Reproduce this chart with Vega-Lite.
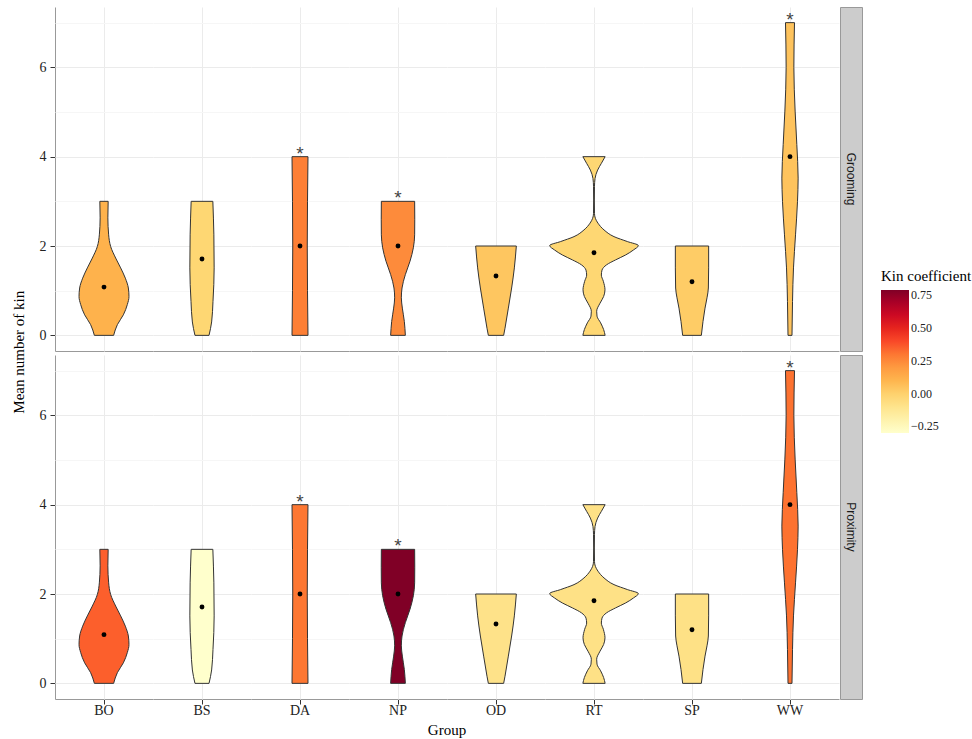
{
  "$schema": "https://vega.github.io/schema/vega-lite/v6.json",
  "padding": {"left": 11, "top": 6, "right": 0, "bottom": 0},
  "background": "white",
  "title": {"text": "Mean number of kin", "orient": "left", "anchor": "middle", "font": "Liberation Serif", "fontSize": 15, "fontWeight": "normal", "color": "#000000", "offset": 12, "dx": 20},
  "datasets": {
    "shapes": [
      {"g": "BO", "v": 0, "d": 0.199}, {"g": "BO", "v": 0.24, "d": 0.276}, {"g": "BO", "v": 0.46, "d": 0.4}, {"g": "BO", "v": 0.69, "d": 0.482}, {"g": "BO", "v": 0.87, "d": 0.516}, {"g": "BO", "v": 1.06, "d": 0.503}, {"g": "BO", "v": 1.28, "d": 0.441}, {"g": "BO", "v": 1.51, "d": 0.344}, {"g": "BO", "v": 1.73, "d": 0.241}, {"g": "BO", "v": 1.99, "d": 0.137}, {"g": "BO", "v": 2.25, "d": 0.096}, {"g": "BO", "v": 2.63, "d": 0.08}, {"g": "BO", "v": 3.0, "d": 0.086},
      {"g": "BS", "v": 0, "d": 0.145}, {"g": "BS", "v": 0.3, "d": 0.199}, {"g": "BS", "v": 0.76, "d": 0.227}, {"g": "BS", "v": 1.51, "d": 0.251}, {"g": "BS", "v": 2.25, "d": 0.245}, {"g": "BS", "v": 3.0, "d": 0.224},
      {"g": "DA", "v": 0, "d": 0.165}, {"g": "DA", "v": 1, "d": 0.155}, {"g": "DA", "v": 2, "d": 0.15}, {"g": "DA", "v": 3, "d": 0.155}, {"g": "DA", "v": 4, "d": 0.165},
      {"g": "NP", "v": 0, "d": 0.152}, {"g": "NP", "v": 0.31, "d": 0.131}, {"g": "NP", "v": 0.61, "d": 0.09}, {"g": "NP", "v": 0.84, "d": 0.069}, {"g": "NP", "v": 1.06, "d": 0.083}, {"g": "NP", "v": 1.36, "d": 0.152}, {"g": "NP", "v": 1.66, "d": 0.248}, {"g": "NP", "v": 1.96, "d": 0.317}, {"g": "NP", "v": 2.25, "d": 0.344}, {"g": "NP", "v": 2.6, "d": 0.346}, {"g": "NP", "v": 3.0, "d": 0.344},
      {"g": "OD", "v": 0, "d": 0.158}, {"g": "OD", "v": 0.16, "d": 0.186}, {"g": "OD", "v": 0.61, "d": 0.255}, {"g": "OD", "v": 1.06, "d": 0.323}, {"g": "OD", "v": 1.51, "d": 0.379}, {"g": "OD", "v": 2.0, "d": 0.42},
      {"g": "RT", "v": 0, "d": 0.23}, {"g": "RT", "v": 0.13, "d": 0.199}, {"g": "RT", "v": 0.28, "d": 0.137}, {"g": "RT", "v": 0.43, "d": 0.062}, {"g": "RT", "v": 0.54, "d": 0.055}, {"g": "RT", "v": 0.72, "d": 0.124}, {"g": "RT", "v": 0.87, "d": 0.199}, {"g": "RT", "v": 1.02, "d": 0.227}, {"g": "RT", "v": 1.21, "d": 0.193}, {"g": "RT", "v": 1.35, "d": 0.152}, {"g": "RT", "v": 1.46, "d": 0.165}, {"g": "RT", "v": 1.58, "d": 0.261}, {"g": "RT", "v": 1.69, "d": 0.447}, {"g": "RT", "v": 1.8, "d": 0.654}, {"g": "RT", "v": 1.91, "d": 0.813}, {"g": "RT", "v": 2.01, "d": 0.916}, {"g": "RT", "v": 2.1, "d": 0.689}, {"g": "RT", "v": 2.21, "d": 0.413}, {"g": "RT", "v": 2.36, "d": 0.207}, {"g": "RT", "v": 2.51, "d": 0.083}, {"g": "RT", "v": 2.62, "d": 0.028}, {"g": "RT", "v": 2.73, "d": 0.01}, {"g": "RT", "v": 3.03, "d": 0.007}, {"g": "RT", "v": 3.33, "d": 0.01}, {"g": "RT", "v": 3.51, "d": 0.021}, {"g": "RT", "v": 3.7, "d": 0.075}, {"g": "RT", "v": 3.85, "d": 0.152}, {"g": "RT", "v": 4.0, "d": 0.23},
      {"g": "SP", "v": 0, "d": 0.193}, {"g": "SP", "v": 0.31, "d": 0.227}, {"g": "SP", "v": 0.61, "d": 0.269}, {"g": "SP", "v": 0.84, "d": 0.31}, {"g": "SP", "v": 1.06, "d": 0.338}, {"g": "SP", "v": 1.51, "d": 0.344}, {"g": "SP", "v": 2.0, "d": 0.344},
      {"g": "WW", "v": 0, "d": 0.041}, {"g": "WW", "v": 0.76, "d": 0.052}, {"g": "WW", "v": 1.51, "d": 0.072}, {"g": "WW", "v": 2.25, "d": 0.114}, {"g": "WW", "v": 3.0, "d": 0.155}, {"g": "WW", "v": 3.52, "d": 0.168}, {"g": "WW", "v": 4.27, "d": 0.141}, {"g": "WW", "v": 5.02, "d": 0.106}, {"g": "WW", "v": 6.0, "d": 0.08}, {"g": "WW", "v": 7.0, "d": 0.093}
    ],
    "grooming": [
      {"g": "BO", "mean": 1.08, "k": 0.11, "top": 3, "star": false},
      {"g": "BS", "mean": 1.71, "k": -0.02, "top": 3, "star": false},
      {"g": "DA", "mean": 2.0, "k": 0.28, "top": 4, "star": true},
      {"g": "NP", "mean": 2.0, "k": 0.25, "top": 3, "star": true},
      {"g": "OD", "mean": 1.33, "k": 0.04, "top": 2, "star": false},
      {"g": "RT", "mean": 1.85, "k": -0.02, "top": 4, "star": false},
      {"g": "SP", "mean": 1.2, "k": 0.02, "top": 2, "star": false},
      {"g": "WW", "mean": 4.0, "k": 0.05, "top": 7, "star": true}
    ],
    "proximity": [
      {"g": "BO", "mean": 1.09, "k": 0.35, "top": 3, "star": false},
      {"g": "BS", "mean": 1.71, "k": -0.3, "top": 3, "star": false},
      {"g": "DA", "mean": 2.0, "k": 0.3, "top": 4, "star": true},
      {"g": "NP", "mean": 2.0, "k": 0.79, "top": 3, "star": true},
      {"g": "OD", "mean": 1.33, "k": -0.09, "top": 2, "star": false},
      {"g": "RT", "mean": 1.85, "k": -0.08, "top": 4, "star": false},
      {"g": "SP", "mean": 1.2, "k": -0.08, "top": 2, "star": false},
      {"g": "WW", "mean": 4.0, "k": 0.31, "top": 7, "star": true}
    ],
    "strips": [{"b": "Grooming"}, {"b": "Proximity"}]
  },
  "columns": 2,
  "spacing": {"row": 2, "column": 0},
  "concat": [
    {
      "data": {"name": "shapes"},
      "transform": [
        {"lookup": "g", "from": {"data": {"name": "grooming"}, "key": "g", "fields": ["k", "mean", "top", "star"]}},
        {"stack": "d", "groupby": ["g", "v"], "offset": "center", "as": ["d0", "d1"]}
      ],
      "facet": {"column": {"field": "g", "type": "nominal", "title": null, "header": {"labels": false}}},
      "spacing": 0,
      "spec": {
        "width": 98,
        "height": 344,
        "layer": [
          {
            "mark": {"type": "area", "orient": "horizontal", "interpolate": "monotone", "stroke": "#333333", "strokeWidth": 1, "fillOpacity": 1},
            "encoding": {
              "y": {"field": "v", "type": "quantitative", "title": null, "scale": {"domain": [-0.35, 7.35], "nice": false, "zero": false},
                "axis": {"values": [0, 1, 2, 3, 4, 5, 6, 7], "labelExpr": "datum.value % 2 ? '' : datum.label", "tickOpacity": {"condition": {"test": "datum.value % 2 == 1", "value": 0}, "value": 1}, "gridColor": {"condition": {"test": "datum.value % 2 == 1", "value": "#F6F6F6"}, "value": "#EBEBEB"}, "grid": true, "domain": true, "labelPadding": 4, "title": null}},
              "x": {"field": "d0", "type": "quantitative", "title": null, "scale": {"nice": false, "zero": false, "padding": 4.65},
                "axis": {"values": [0.458], "grid": true, "domain": true, "labels": false, "ticks": false, "title": null}},
              "x2": {"field": "d1"},
              "fill": {"field": "k", "type": "quantitative",
                "scale": {"domain": [-0.3, -0.16375, -0.0275, 0.10875, 0.245, 0.38125, 0.5175, 0.65375, 0.79], "range": ["#ffffcc", "#ffeda0", "#fed976", "#feb24c", "#fd8d3c", "#fc4e2a", "#e31a1c", "#bd0026", "#800026"]},
                "legend": {"title": "Kin coefficient", "orient": "none", "legendX": 826, "legendY": 262, "direction": "vertical", "values": [-0.25, 0, 0.25, 0.5, 0.75], "format": ".2f"}}
            }
          },
          {
            "transform": [{"filter": "datum.v == 0"}],
            "mark": {"type": "point", "filled": true, "color": "#000000", "size": 24, "opacity": 1},
            "encoding": {
              "y": {"field": "mean", "type": "quantitative", "title": null}
            }
          },
          {
            "transform": [{"filter": "datum.v == 0 && datum.star"}],
            "mark": {"type": "text", "text": "*", "font": "Liberation Sans", "fontSize": 19, "baseline": "alphabetic", "dy": 3, "color": "#444444"},
            "encoding": {
              "y": {"field": "top", "type": "quantitative", "title": null}
            }
          }
        ]
      }
    },
    {
      "width": 22,
      "height": 344,
      "view": {"fill": "#CCCCCC", "stroke": "#999999"},
      "data": {"name": "strips"},
      "transform": [{"filter": "datum.b == 'Grooming'"}],
      "mark": {"type": "text", "angle": 90, "font": "Liberation Sans", "fontSize": 12, "color": "#1A1A1A"},
      "encoding": {"text": {"field": "b"}}
    },
    {
      "data": {"name": "shapes"},
      "transform": [
        {"lookup": "g", "from": {"data": {"name": "proximity"}, "key": "g", "fields": ["k", "mean", "top", "star"]}},
        {"stack": "d", "groupby": ["g", "v"], "offset": "center", "as": ["d0", "d1"]}
      ],
      "facet": {"column": {"field": "g", "type": "nominal", "title": "Group",
        "header": {"labelOrient": "bottom", "titleOrient": "bottom", "labelFont": "Liberation Serif", "labelFontSize": 14, "labelColor": "#222222", "labelPadding": -1, "titleFont": "Liberation Serif", "titleFontSize": 15, "titleFontWeight": "normal", "titleColor": "#000000", "titlePadding": -5}}},
      "spacing": 0,
      "spec": {
        "width": 98,
        "height": 344,
        "layer": [
          {
            "mark": {"type": "area", "orient": "horizontal", "interpolate": "monotone", "stroke": "#333333", "strokeWidth": 1, "fillOpacity": 1},
            "encoding": {
              "y": {"field": "v", "type": "quantitative", "title": null, "scale": {"domain": [-0.35, 7.35], "nice": false, "zero": false},
                "axis": {"values": [0, 1, 2, 3, 4, 5, 6, 7], "labelExpr": "datum.value % 2 ? '' : datum.label", "tickOpacity": {"condition": {"test": "datum.value % 2 == 1", "value": 0}, "value": 1}, "gridColor": {"condition": {"test": "datum.value % 2 == 1", "value": "#F6F6F6"}, "value": "#EBEBEB"}, "grid": true, "domain": true, "labelPadding": 4, "title": null}},
              "x": {"field": "d0", "type": "quantitative", "title": null, "scale": {"nice": false, "zero": false, "padding": 4.65},
                "axis": {"values": [0.458], "grid": true, "domain": true, "labels": false, "ticks": true, "title": null}},
              "x2": {"field": "d1"},
              "fill": {"field": "k", "type": "quantitative",
                "scale": {"domain": [-0.3, -0.16375, -0.0275, 0.10875, 0.245, 0.38125, 0.5175, 0.65375, 0.79], "range": ["#ffffcc", "#ffeda0", "#fed976", "#feb24c", "#fd8d3c", "#fc4e2a", "#e31a1c", "#bd0026", "#800026"]},
                "legend": {"title": "Kin coefficient", "orient": "none", "legendX": 826, "legendY": 262, "direction": "vertical", "values": [-0.25, 0, 0.25, 0.5, 0.75], "format": ".2f"}}
            }
          },
          {
            "transform": [{"filter": "datum.v == 0"}],
            "mark": {"type": "point", "filled": true, "color": "#000000", "size": 24, "opacity": 1},
            "encoding": {
              "y": {"field": "mean", "type": "quantitative", "title": null}
            }
          },
          {
            "transform": [{"filter": "datum.v == 0 && datum.star"}],
            "mark": {"type": "text", "text": "*", "font": "Liberation Sans", "fontSize": 19, "baseline": "alphabetic", "dy": 3, "color": "#444444"},
            "encoding": {
              "y": {"field": "top", "type": "quantitative", "title": null}
            }
          }
        ]
      }
    },
    {
      "width": 22,
      "height": 344,
      "view": {"fill": "#CCCCCC", "stroke": "#999999"},
      "data": {"name": "strips"},
      "transform": [{"filter": "datum.b == 'Proximity'"}],
      "mark": {"type": "text", "angle": 90, "font": "Liberation Sans", "fontSize": 12, "color": "#1A1A1A"},
      "encoding": {"text": {"field": "b"}}
    }
  ],
  "resolve": {"scale": {"fill": "shared"}, "legend": {"fill": "shared"}},
  "config": {
    "font": "Liberation Serif",
    "view": {"stroke": null},
    "axis": {"labelFont": "Liberation Serif", "labelFontSize": 14, "labelColor": "#222222", "tickColor": "#333333", "tickSize": 5, "domainColor": "#999999", "domainWidth": 1, "titleFont": "Liberation Serif", "titleFontSize": 15, "titleFontWeight": "normal", "titleColor": "#000000", "gridColor": "#EBEBEB"},
    "legend": {"titleFont": "Liberation Serif", "titleFontSize": 15, "titleFontWeight": "normal", "titleColor": "#000000", "labelFont": "Liberation Serif", "labelFontSize": 12, "labelColor": "#222222", "gradientLength": 143, "gradientThickness": 28, "gradientStrokeWidth": 0, "titlePadding": 6, "labelOffset": 5, "padding": 0}
  }
}
